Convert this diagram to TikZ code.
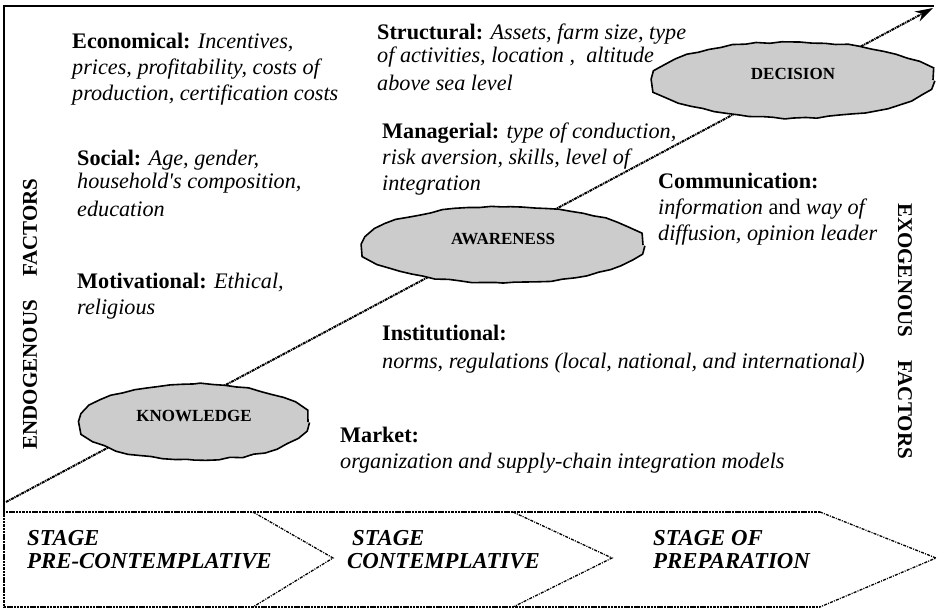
\documentclass[tikz,border=0pt]{standalone}
\usepackage{fontspec}
\setmainfont{Liberation Serif}
\usetikzlibrary{shapes.geometric,arrows.meta,decorations.pathmorphing}
\definecolor{ovalgray}{RGB}{204,204,204}
\begin{document}
\begin{tikzpicture}[x=1pt,y=-1pt,
  factor/.style={anchor=north west, inner sep=0pt, align=left,
    font=\fontsize{22.2}{26}\selectfont},
  stagelabel/.style={anchor=north west, inner sep=0pt, align=left,
    font=\fontsize{22.8}{23.5}\selectfont\bfseries\itshape},
  sidelabel/.style={inner sep=0pt, font=\fontsize{21}{24}\selectfont\bfseries},
  oval/.style={ellipse, draw, fill=ovalgray, line width=1.6pt, inner sep=0pt,
    minimum height=76pt, text depth=13pt,
    font=\fontsize{17}{19}\selectfont\bfseries,
    decorate, decoration={random steps, segment length=12pt, amplitude=1pt}},
  frameline/.style={line width=2pt},
  bandline/.style={line width=1.6pt, dash pattern=on 2.5pt off 0.8pt},
  chevron/.style={line width=1.3pt, dash pattern=on 3pt off 1.2pt on 1pt off 1.2pt},
  stagearrow/.style={line width=2pt, dash pattern=on 3pt off 0.8pt on 1.2pt off 0.8pt,
    -{Stealth[length=18pt,width=11pt]}}]
\pgfmathsetseed{7}
\useasboundingbox (0,0) rectangle (938,610);

% outer frame: top and left sides
\coordinate (corner) at (4,6);
\coordinate (topend) at (934,6);
\coordinate (leftend) at (4,511);
\draw[frameline] (topend) -- (corner) -- (leftend);

% rising path through the three stages of the decision process
\coordinate (base) at (6,502);
\coordinate (tip) at (933,8);
\draw[stagearrow] (base) -- (tip);

% stage ovals
\node[oval, minimum width=228pt] (knowledge) at (194,422) {KNOWLEDGE};
\node[oval, minimum width=280pt] (awareness) at (503,245) {AWARENESS};
\node[oval, minimum width=280pt] (decision) at (793,80) {DECISION};

% endogenous and exogenous factor groups
\node[factor] (economical) at (72,33)
  {\textbf{Economical:} \textit{Incentives,}\\
   \textit{prices, profitability, costs of}\\
   \textit{production, certification costs}};
\node[factor] (social) at (77,150)
  {\textbf{Social:} \textit{Age, gender,}\\[-3pt]
   \textit{household\textquotesingle s composition,}\\[2pt]
   \textit{education}};
\node[factor] (motivational) at (77,273)
  {\textbf{Motivational:} \textit{Ethical,}\\
   \textit{religious}};
\node[factor] (structural) at (377,24)
  {\textbf{Structural:} \textit{Assets, farm size, type}\\[-3pt]
   \textit{of activities, location ,\ \ altitude}\\[2pt]
   \textit{above sea level}};
\node[factor] (managerial) at (382,123)
  {\textbf{Managerial:} \textit{type of conduction,}\\
   \textit{risk aversion, skills, level of}\\
   \textit{integration}};
\node[factor] (communication) at (658,173)
  {\textbf{Communication:}\\
   \textit{information} and \textit{way of}\\
   \textit{diffusion, opinion leader}};
\node[factor] (institutional) at (382,325)
  {\textbf{Institutional:}\\[2pt]
   \textit{norms, regulations (local, national, and international)}};
\node[factor] (market) at (340,427)
  {\textbf{Market:}\\
   \textit{organization and supply-chain integration models}};

\node[sidelabel, rotate=90] (endogenous) at (30,314)
  {ENDOGENOUS\hspace{1.1em}FACTORS};
\node[sidelabel, rotate=-90] (exogenous) at (905,331)
  {EXOGENOUS\hspace{1.1em}FACTORS};

% stage band with chevrons
\coordinate (bandtl) at (4,512);
\coordinate (bandbl) at (4,607);
\coordinate (c1t) at (253,512);
\coordinate (c1p) at (333,558);
\coordinate (c1b) at (253,607);
\coordinate (c2t) at (513,512);
\coordinate (c2p) at (612,558);
\coordinate (c2b) at (513,607);
\coordinate (c3t) at (820,512);
\coordinate (c3p) at (936,558);
\coordinate (c3b) at (820,607);
\draw[bandline] (c3t) -- (bandtl) -- (bandbl) -- (c3b);
\draw[chevron] (c1t) -- (c1p) -- (c1b);
\draw[chevron] (c2t) -- (c2p) -- (c2b);
\draw[chevron] (c3t) -- (c3p) -- (c3b);

\node[stagelabel] (precontemplative) at (27,530) {STAGE\\PRE-CONTEMPLATIVE};
\node[stagelabel] (contemplative) at (347,530) {\hspace{5pt}STAGE\\CONTEMPLATIVE};
\node[stagelabel] (preparation) at (653,530) {STAGE OF\\PREPARATION};
\end{tikzpicture}
\end{document}
